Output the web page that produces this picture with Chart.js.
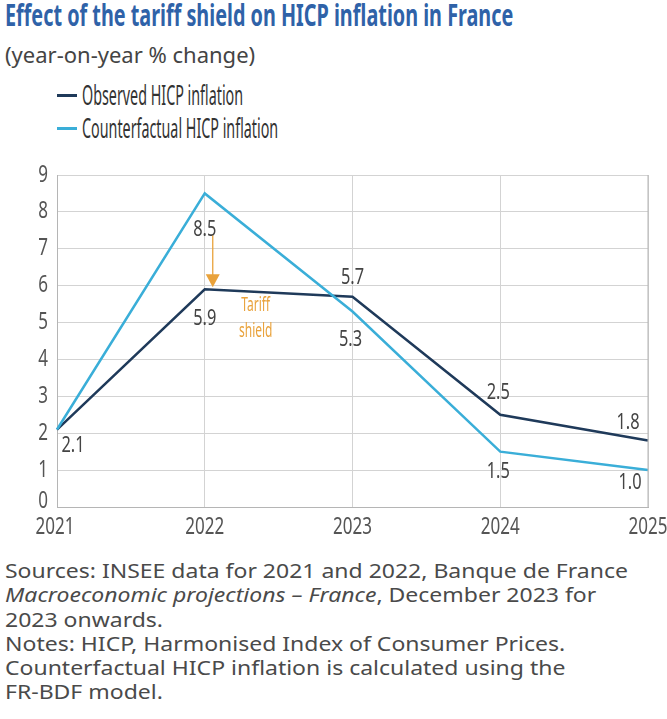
<!DOCTYPE html>
<html>
<head>
<meta charset="utf-8">
<script src="https://cdn.jsdelivr.net/npm/chart.js@4"></script>
<style>
	body { margin: 0; background: #fff; width: 667px; height: 719px; position: relative; overflow: hidden; font-family: "Noto Sans", sans-serif; }
	.abs { position: absolute; white-space: nowrap; transform-origin: 0 0; }
	.title { left: 5px; top: -6px; font-size: 30px; font-weight: bold; color: #2f62a8; transform: scaleX(0.66); }
	.subtitle { left: 5px; top: 39px; font-size: 22px; color: #444; }
	.legend-line { position: absolute; left: 57px; width: 20px; height: 3px; }
	.legend { left: 82px; font-size: 27px; color: #333; transform: scaleX(0.53); }
	.notes { left: 5px; top: 559px; font-size: 19px; color: #4a4a4a; line-height: 24.3px; transform: scaleX(1.21); }
	#wrap { position: absolute; left: 0; top: 150px; width: 667px; height: 395px; }
</style>
</head>
<body>
<div class="abs title">Effect of the tariff shield on HICP inflation in France</div>
<div class="abs subtitle">(year-on-year % change)</div>
<div class="legend-line" style="top:94px; background:#1f3a5a"></div>
<div class="abs legend" style="top:76px">Observed HICP inflation</div>
<div class="legend-line" style="top:127px; background:#3aaed8"></div>
<div class="abs legend" style="top:109px">Counterfactual HICP inflation</div>
<div id="wrap"><canvas id="chart"></canvas></div>
<div class="abs notes">
Sources: INSEE data for 2021 and 2022, Banque de France<br>
<i>Macroeconomic projections – France</i>, December 2023 for<br>
2023 onwards.<br>
Notes: HICP, Harmonised Index of Consumer Prices.<br>
Counterfactual HICP inflation is calculated using the<br>
FR-BDF model.
</div>
<script>
var years = ['2021', '2022', '2023', '2024', '2025'];
var observed = [2.1, 5.9, 5.7, 2.5, 1.8];
var counterfactual = [2.1, 8.5, 5.3, 1.5, 1.0];
var observed_labels = ['2.1', '5.9', '5.7', '2.5', '1.8'];
var counterfactual_labels = ['', '8.5', '5.3', '1.5', '1.0'];
var y_ticks = ['0', '1', '2', '3', '4', '5', '6', '7', '8', '9'];

// label offsets per point: [dx, dy]
var obs_off = [[16, 16], [0, 30], [0, -19], [-2, -22], [-20, -18]];
var cf_off = [[0, 0], [0, 37], [-2, 29], [-2, 20], [-18, 13]];

function draw_narrow(ctx, text, x, y, size, sx) {
	ctx.save();
	ctx.translate(x, y);
	ctx.scale(sx, 1);
	ctx.font = size + 'px "Noto Sans", sans-serif';
	ctx.textAlign = 'center';
	ctx.textBaseline = 'middle';
	ctx.fillText(text, 0, 0);
	ctx.restore();
}

var labels_plugin = {
	id: 'labels',
	afterDatasetsDraw: function(chart) {
		var ctx = chart.ctx;
		var x = chart.scales.x, y = chart.scales.y;
		ctx.save();

		// axis tick labels
		ctx.fillStyle = '#555';
		years.forEach(function(yr, i) {
			draw_narrow(ctx, yr, x.getPixelForValue(i) - (i == 0 ? 2 : 0), y.bottom + 20, 23, 0.74);
		});
		y_ticks.forEach(function(t) {
			// the 0 sits a bit above the axis so it clears the 2021 label
			draw_narrow(ctx, t, x.left - 14, y.getPixelForValue(+t) - (t == '0' ? 6 : 0), 23, 0.74);
		});

		// data labels
		ctx.fillStyle = '#444';
		years.forEach(function(yr, i) {
			draw_narrow(ctx, observed_labels[i], x.getPixelForValue(i) + obs_off[i][0], y.getPixelForValue(observed[i]) + obs_off[i][1], 21, 0.78);
			if (counterfactual_labels[i]) {
				draw_narrow(ctx, counterfactual_labels[i], x.getPixelForValue(i) + cf_off[i][0], y.getPixelForValue(counterfactual[i]) + cf_off[i][1], 21, 0.78);
			}
		});

		// tariff shield arrow
		var ax = x.getPixelForValue(1) + 8;
		var top = y.getPixelForValue(counterfactual[1]) + 42;
		var tip = y.getPixelForValue(observed[1]) - 2;
		ctx.strokeStyle = '#e9a23b';
		ctx.fillStyle = '#e9a23b';
		ctx.lineWidth = 1.3;
		ctx.beginPath();
		ctx.moveTo(ax, top);
		ctx.lineTo(ax, tip - 10);
		ctx.stroke();
		ctx.beginPath();
		ctx.moveTo(ax - 7, tip - 13);
		ctx.lineTo(ax + 7, tip - 13);
		ctx.lineTo(ax, tip);
		ctx.closePath();
		ctx.fill();

		var oy = y.getPixelForValue(observed[1]);
		draw_narrow(ctx, 'Tariff', x.getPixelForValue(1) + 51, oy + 16, 20, 0.6);
		draw_narrow(ctx, 'shield', x.getPixelForValue(1) + 51, oy + 42, 20, 0.6);
		ctx.restore();
	}
};

new Chart(document.getElementById('chart'), {
	type: 'line',
	data: {
		labels: years,
		datasets: [
			{ label: 'Counterfactual HICP inflation', data: counterfactual, borderColor: '#3aaed8', borderWidth: 2.5, pointRadius: 0, tension: 0 },
			{ label: 'Observed HICP inflation', data: observed, borderColor: '#1f3a5a', borderWidth: 2.5, pointRadius: 0, tension: 0 }
		]
	},
	options: {
		responsive: true,
		maintainAspectRatio: false,
		animation: false,
		layout: { padding: { left: 0, right: 19, top: 25, bottom: 0 } },
		plugins: { legend: { display: false }, tooltip: { enabled: false } },
		scales: {
			x: {
				offset: false,
				grid: { color: '#d3d3d3', drawTicks: false },
				border: { color: '#b5b5b5' },
				ticks: { display: false },
				afterFit: function(s) { s.height = 38; }
			},
			y: {
				min: 0, max: 9,
				grid: { color: '#d3d3d3', drawTicks: false },
				border: { color: '#b5b5b5' },
				ticks: { display: false, stepSize: 1 },
				afterFit: function(s) { s.width = 57; }
			}
		}
	},
	plugins: [labels_plugin, {
		id: 'rightBorder',
		afterDraw: function(chart) {
			var a = chart.chartArea, ctx = chart.ctx;
			ctx.save();
			ctx.strokeStyle = '#b5b5b5';
			ctx.beginPath();
			ctx.moveTo(a.right, a.top);
			ctx.lineTo(a.right, a.bottom);
			ctx.stroke();
			ctx.restore();
		}
	}]
});
</script>
</body>
</html>
